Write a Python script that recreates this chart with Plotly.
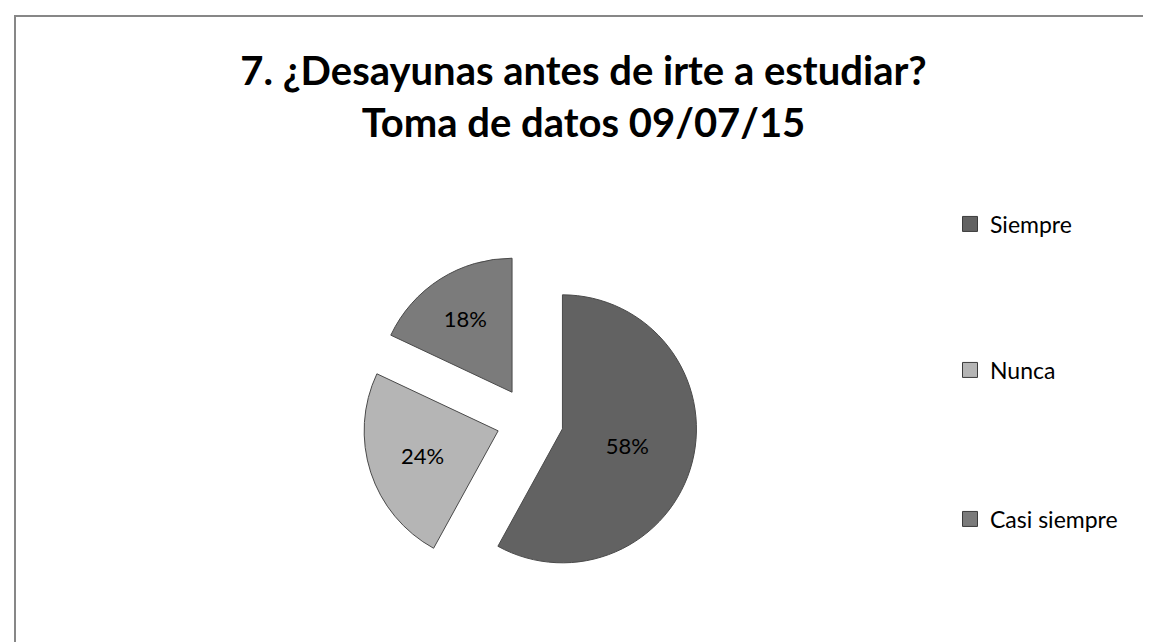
import plotly.graph_objects as go

# data
labels = ["Siempre", "Nunca", "Casi siempre"]
values = [58, 24, 18]
colors = ["#626262", "#b5b5b5", "#7b7b7b"]

title_lines = ["7. ¿Desayunas antes de irte a estudiar?", "Toma de datos 09/07/15"]

W, H = 1151, 642
FONT = "Lato"


def px_x(v):
    return v / W


def px_y(v):
    # pixel from top -> paper fraction from bottom
    return 1 - v / H


fig = go.Figure()

fig.add_trace(go.Pie(
    labels=labels,
    values=values,
    sort=False,
    direction="clockwise",
    rotation=0,
    pull=[0.25, 0.25, 0.25],
    marker=dict(colors=colors, line=dict(color="#4a4a4a", width=1)),
    texttemplate="%{percent:.0%}",
    textposition="inside",
    insidetextorientation="horizontal",
    textfont=dict(family=FONT, size=22, color="black"),
    domain=dict(x=[px_x(354), px_x(690)], y=[px_y(580), px_y(245)]),
    showlegend=False,
    hoverinfo="label+percent",
))

# legend entries, spaced like the original
legend_y = [216, 362, 511]
for i, (lab, col) in enumerate(zip(labels, colors)):
    key = "legend" if i == 0 else f"legend{i + 1}"
    fig.add_trace(go.Scatter(
        x=[None], y=[None], mode="markers", name=lab,
        marker=dict(symbol="square", size=15, color=col,
                    line=dict(color="#3c3c3c", width=1)),
        legend=key,
    ))
    fig.update_layout({key: dict(
        x=px_x(942), xanchor="left",
        y=px_y(legend_y[i]), yanchor="middle",
        font=dict(family=FONT, size=23, color="black"),
        bgcolor="rgba(0,0,0,0)",
    )})

fig.update_layout(
    width=W, height=H,
    margin=dict(l=0, r=0, t=0, b=0),
    paper_bgcolor="white",
    plot_bgcolor="white",
    xaxis=dict(visible=False),
    yaxis=dict(visible=False),
    title=dict(
        text="<br>".join(title_lines),
        x=0.5, xanchor="center",
        y=px_y(77), yanchor="top", yref="container",
        font=dict(family=FONT, size=40, color="black", weight="bold"),
    ),
    shapes=[dict(
        type="rect", xref="paper", yref="paper",
        x0=px_x(7), x1=px_x(1170), y0=px_y(680), y1=px_y(8),
        line=dict(color="#878787", width=2),
    )],
)

fig.write_html("out.html")
